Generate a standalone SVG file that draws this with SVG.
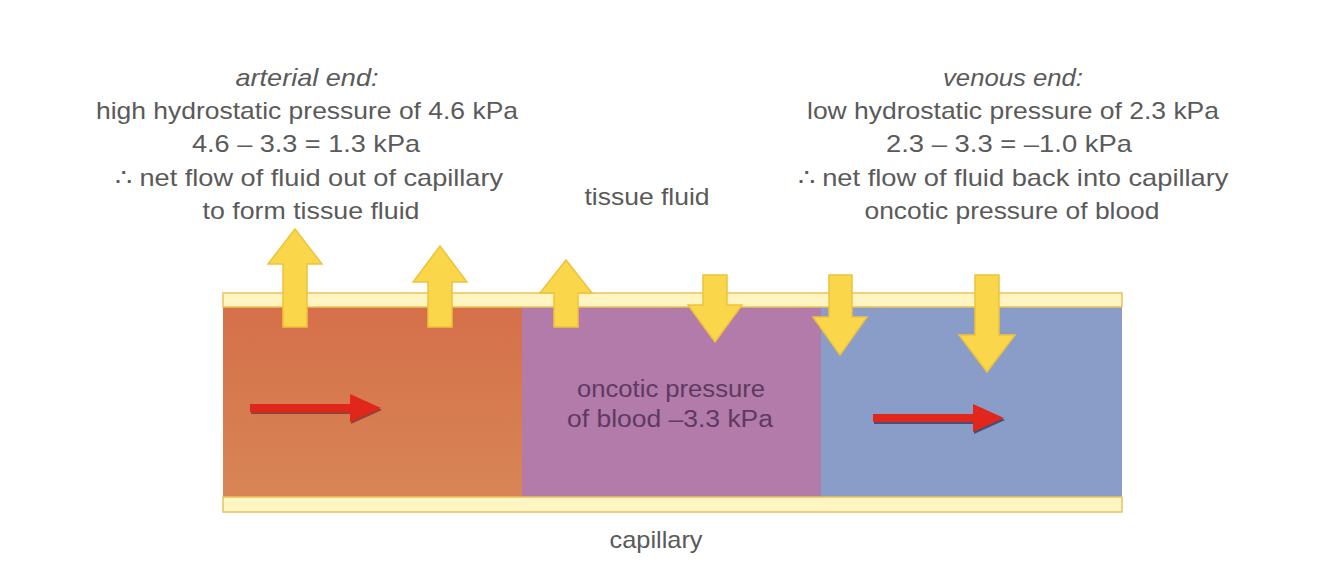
<svg xmlns="http://www.w3.org/2000/svg" width="1330" height="566" viewBox="0 0 1330 566">
<defs>
<linearGradient id="og" x1="0" y1="0" x2="0" y2="1">
<stop offset="0" stop-color="#D5704A"/>
<stop offset="1" stop-color="#D88556"/>
</linearGradient>
</defs>
<style>
.t{font-family:"Liberation Sans",Arial,sans-serif;font-size:24px;fill:#5A5A5A;text-anchor:middle}
.it{font-style:italic}
.wall{fill:#FFF5C2;stroke:#E9C25A;stroke-width:1.5}
.ya{fill:#FAD64A;stroke:#EFC23A;stroke-width:1.5;stroke-linejoin:miter}
.ra{fill:#E1261C}
.rs{fill:#7A2A30;opacity:0.7}
.in{font-family:"Liberation Sans",Arial,sans-serif;font-size:23px;fill:#5E3A60;text-anchor:middle}
</style>
<rect width="1330" height="566" fill="#FFFFFF"/>
<g id="capillary">
<rect x="223" y="307" width="300" height="190" fill="url(#og)"/>
<rect x="522" y="307" width="300" height="190" fill="#B27BA9"/>
<rect x="821" y="307" width="301" height="190" fill="#8A9CC8"/>
<rect class="wall" x="223" y="293" width="899" height="14"/>
<rect class="wall" x="223" y="497" width="899" height="15"/>
</g>
<g id="connectors">
<path class="ya" d="M283,327 V264 H268 L295,229 L322,264 H307 V327 Z"/>
<path class="ya" d="M428,327 V282 H413 L440,246 L467,282 H452 V327 Z"/>
<path class="ya" d="M554,327 V293 H540 L566,260 L592,293 H578 V327 Z"/>
<path class="ya" d="M703,275 V305 H688 L715,342 L742,305 H727 V275 Z"/>
<path class="ya" d="M829,275 V317 H813 L840,355 L867,317 H852 V275 Z"/>
<path class="ya" d="M975,275 V335 H959 L987,372 L1015,335 H999 V275 Z"/>
<path class="rs" d="M251,406 H351 V396 L382,410 L351,424 V414 H251 Z"/>
<path class="ra" d="M250,404 H350 V394 L381,408 L350,422 V412 H250 Z"/>
<path class="rs" d="M874,416 H974 V406 L1005,420 L974,434 V424 H874 Z" style="fill:#2A3050"/>
<path class="ra" d="M873,414 H973 V404 L1004,418 L973,432 V422 H873 Z"/>
</g>
<g id="arterial">
<text class="t it" x="307" y="86" textLength="143" lengthAdjust="spacingAndGlyphs">arterial end:</text>
<text class="t" x="307" y="119" textLength="422" lengthAdjust="spacingAndGlyphs">high hydrostatic pressure of 4.6 kPa</text>
<text class="t" x="306" y="152" textLength="228" lengthAdjust="spacingAndGlyphs">4.6 – 3.3 = 1.3 kPa</text>
<text class="t" x="309" y="186" textLength="388" lengthAdjust="spacingAndGlyphs">∴ net flow of fluid out of capillary</text>
<text class="t" x="311" y="219" textLength="217" lengthAdjust="spacingAndGlyphs">to form tissue fluid</text>
</g>
<g id="venous">
<text class="t it" x="1013" y="86" textLength="140" lengthAdjust="spacingAndGlyphs">venous end:</text>
<text class="t" x="1013" y="119" textLength="412" lengthAdjust="spacingAndGlyphs">low hydrostatic pressure of 2.3 kPa</text>
<text class="t" x="1009" y="152" textLength="246" lengthAdjust="spacingAndGlyphs">2.3 – 3.3 = –1.0 kPa</text>
<text class="t" x="1013" y="186" textLength="431" lengthAdjust="spacingAndGlyphs">∴ net flow of fluid back into capillary</text>
<text class="t" x="1012" y="219" textLength="295" lengthAdjust="spacingAndGlyphs">oncotic pressure of blood</text>
</g>
<g id="tissue-fluid"><text class="t" x="647" y="205" textLength="125" lengthAdjust="spacingAndGlyphs">tissue fluid</text></g>
<g id="oncotic"><text class="in" x="671" y="397" textLength="188" lengthAdjust="spacingAndGlyphs">oncotic pressure</text><text class="in" x="670" y="427" textLength="206" lengthAdjust="spacingAndGlyphs">of blood –3.3 kPa</text></g>
<g id="capillary-label"><text class="t" x="656" y="548" textLength="93" lengthAdjust="spacingAndGlyphs">capillary</text></g>
</svg>
